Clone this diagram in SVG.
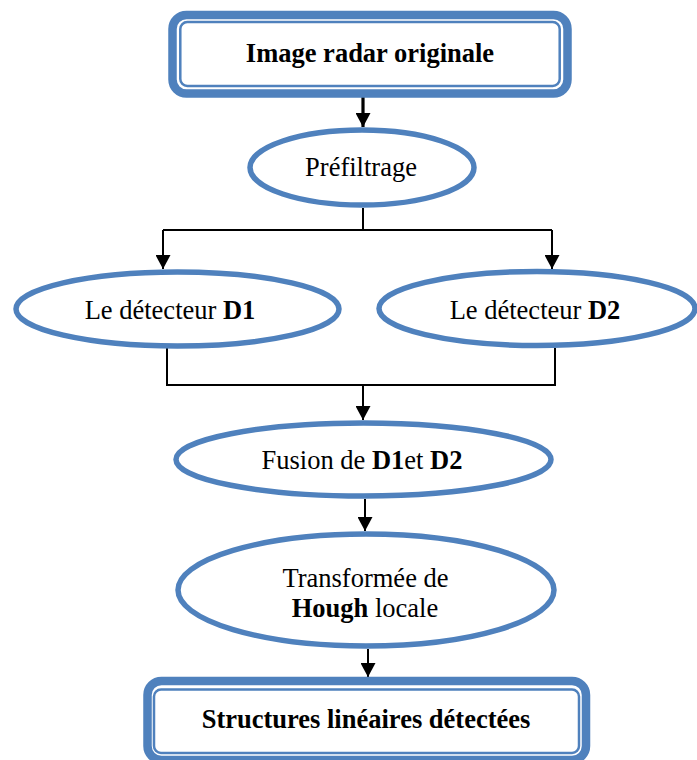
<svg xmlns="http://www.w3.org/2000/svg" width="697" height="760" viewBox="0 0 697 760">
<style>
.box-outer{fill:#fff;stroke:#4F81BD;stroke-width:8.5}
.box-inner{fill:none;stroke:#4F81BD;stroke-width:2.5}
.ell{fill:#fff;stroke:#4F81BD;stroke-width:5.5}
.t{font-family:"Liberation Serif","Times New Roman",serif;font-size:26.5px;fill:#000;text-anchor:middle}
.b{font-weight:bold}
.c{fill:none;stroke:#000;stroke-width:2}
.thick{stroke-width:3.2}
</style>
<defs>
<marker id="arr" markerUnits="userSpaceOnUse" markerWidth="15" markerHeight="15" refX="14" refY="7.5" orient="auto">
<path d="M0,0 L14,7.5 L0,15 z" fill="#000"/>
</marker>
</defs>
<g id="connectors">
<line class="c thick" x1="363" y1="97" x2="363" y2="127" marker-end="url(#arr)"/>
<polyline class="c" points="363,208 363,230"/>
<polyline class="c" points="163,230 552,230"/>
<line class="c" x1="163" y1="230" x2="163" y2="269" marker-end="url(#arr)"/>
<line class="c" x1="552" y1="230" x2="552" y2="269" marker-end="url(#arr)"/>
<polyline class="c" points="167,348 167,385 555,385 555,348"/>
<line class="c" x1="363" y1="385" x2="363" y2="420" marker-end="url(#arr)"/>
<line class="c" x1="365" y1="499" x2="365" y2="531" marker-end="url(#arr)"/>
<line class="c" x1="368" y1="649" x2="368" y2="677" marker-end="url(#arr)"/>
</g>
<g id="node-image">
<rect class="box-outer" x="172.5" y="15" width="395" height="78.5" rx="14"/>
<rect class="box-inner" x="180.3" y="22" width="379.4" height="64" rx="7"/>
<text class="t b" x="370" y="62">Image radar originale</text>
</g>
<g id="node-prefiltrage">
<ellipse class="ell" cx="362" cy="167.5" rx="112" ry="37.5"/>
<text class="t" x="361" y="176">Préfiltrage</text>
</g>
<g id="node-d1">
<ellipse class="ell" cx="177.5" cy="309" rx="161.5" ry="37"/>
<text class="t" x="170" y="319">Le détecteur <tspan class="b">D1</tspan></text>
</g>
<g id="node-d2">
<ellipse class="ell" cx="537" cy="308.5" rx="158" ry="37"/>
<text class="t" x="535" y="319">Le détecteur <tspan class="b">D2</tspan></text>
</g>
<g id="node-fusion">
<ellipse class="ell" cx="363.5" cy="459.5" rx="187.5" ry="36.5"/>
<text class="t" x="362" y="469">Fusion de <tspan class="b">D1</tspan>et <tspan class="b">D2</tspan></text>
</g>
<g id="node-hough">
<ellipse class="ell" cx="366" cy="590" rx="188" ry="56"/>
<text class="t" x="365.5" y="587">Transformée de</text>
<text class="t" x="365" y="617"><tspan class="b">Hough</tspan> locale</text>
</g>
<g id="node-structures">
<rect class="box-outer" x="147.5" y="681" width="438.5" height="79" rx="14"/>
<rect class="box-inner" x="154" y="689.5" width="425" height="63.5" rx="7"/>
<text class="t b" x="366" y="728">Structures linéaires détectées</text>
</g>
</svg>
